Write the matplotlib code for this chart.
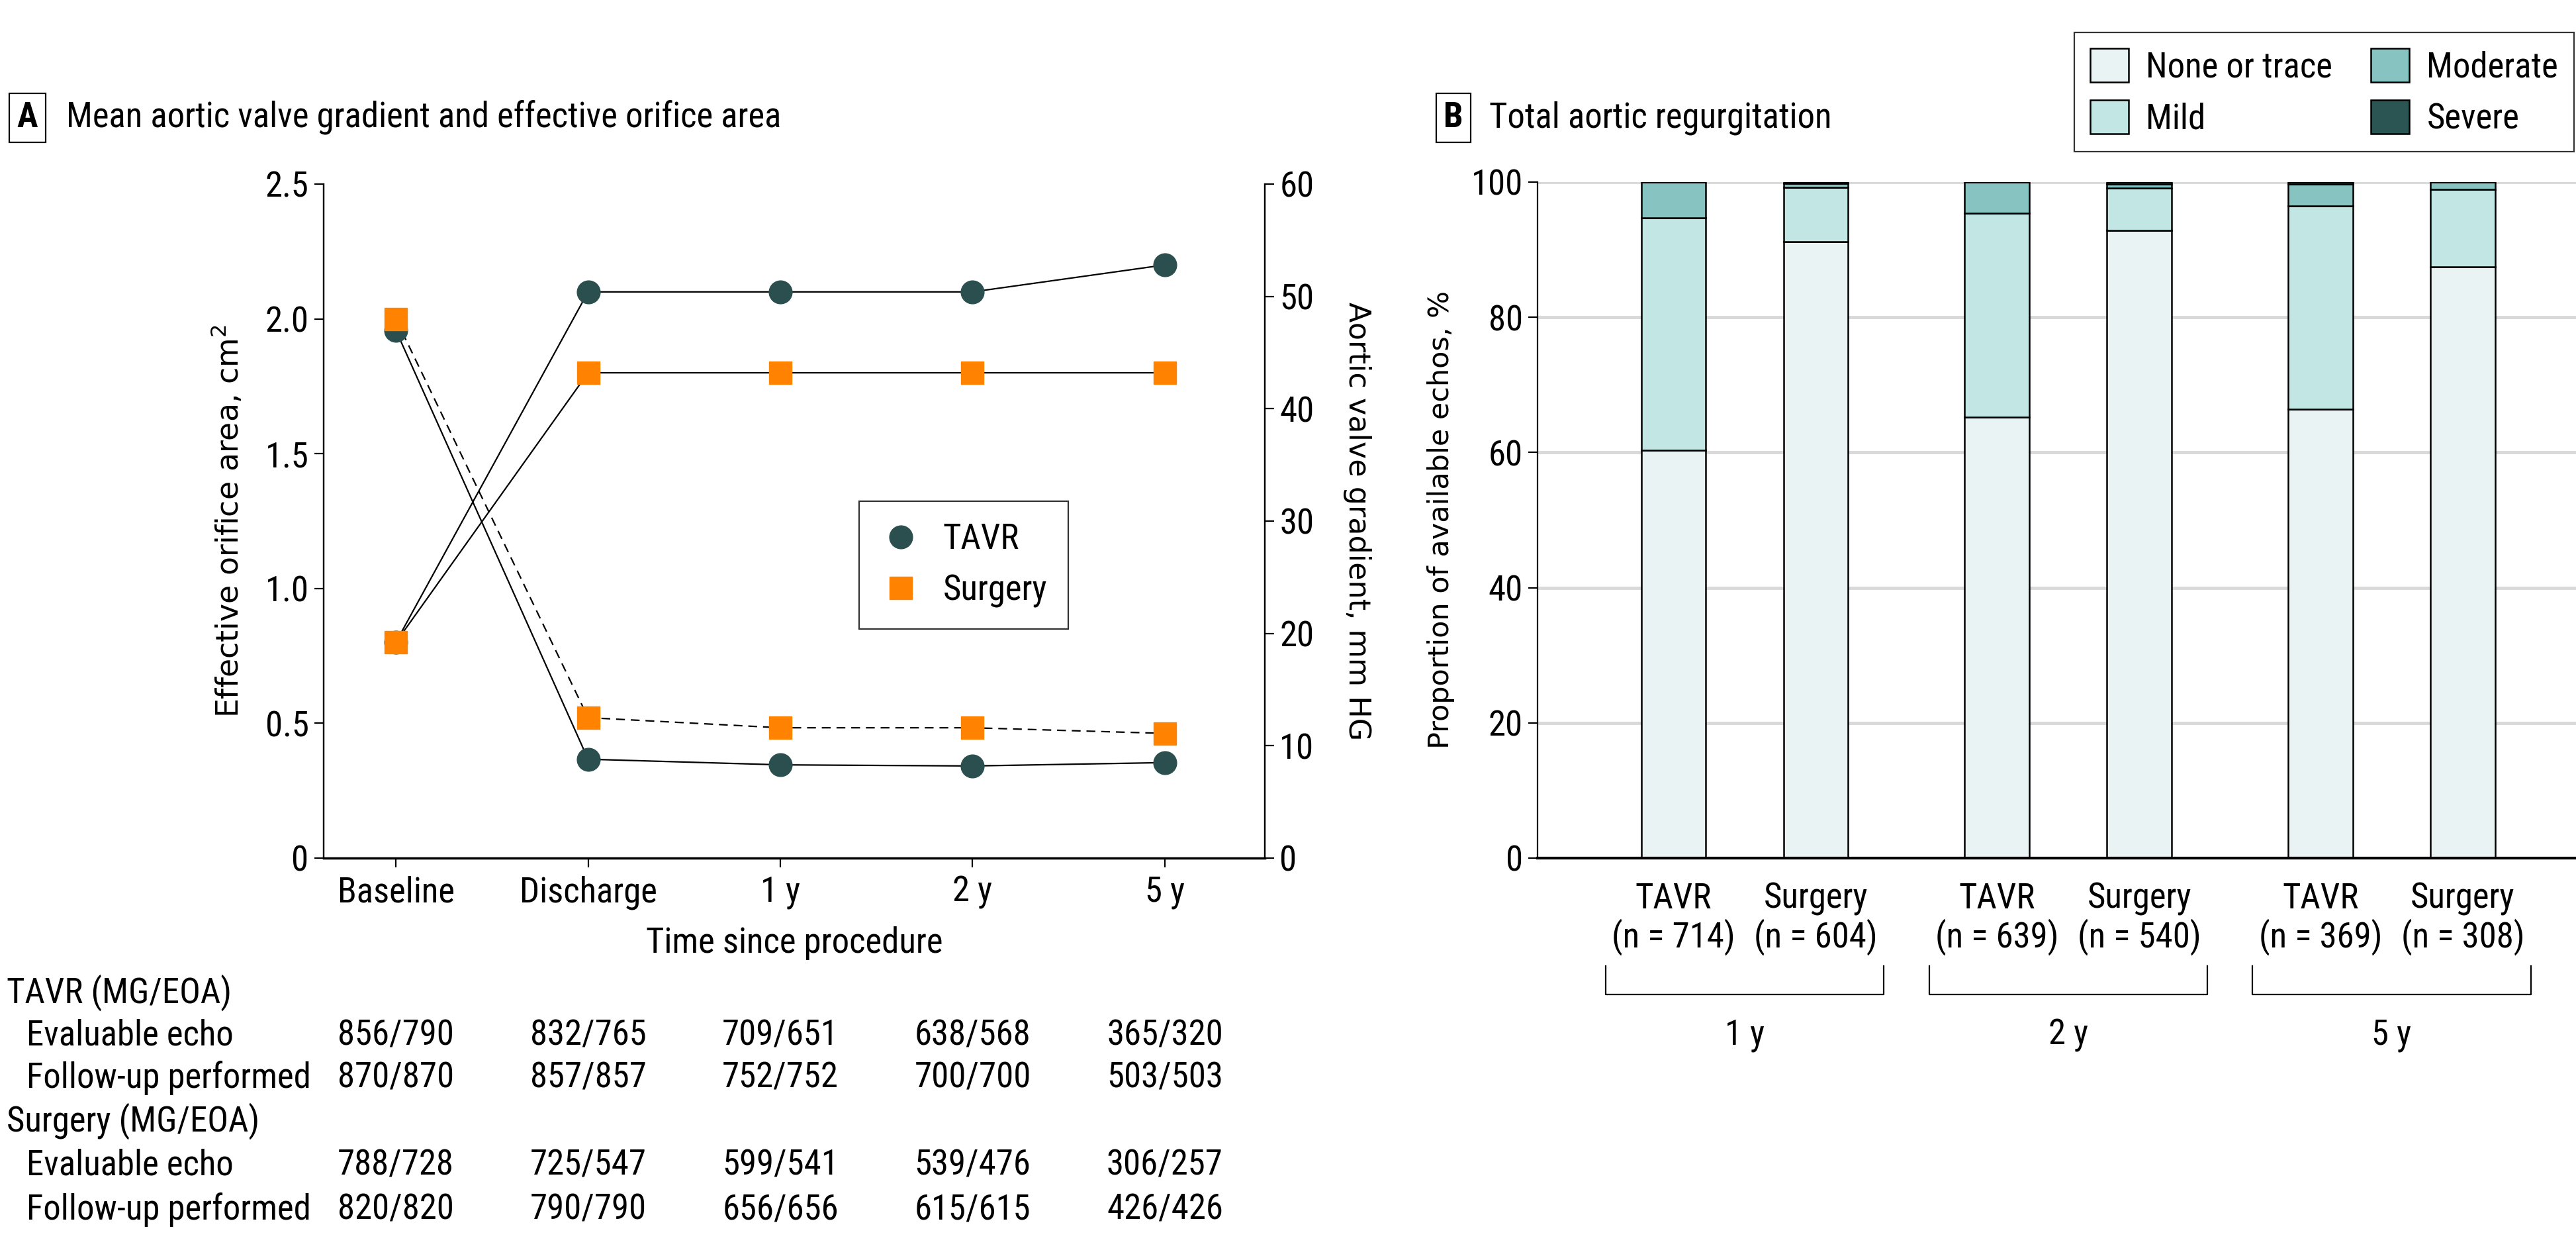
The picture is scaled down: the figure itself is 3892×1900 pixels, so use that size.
import matplotlib
matplotlib.use("Agg")
import matplotlib.pyplot as plt
import matplotlib.transforms as mtransforms
from matplotlib.patches import Patch
from matplotlib.lines import Line2D
from matplotlib import font_manager
import numpy as np

# ---------------- data ----------------
timepoints = ["Baseline", "Discharge", "1 y", "2 y", "5 y"]
tavr_eoa = [0.80, 2.10, 2.10, 2.10, 2.20]
surg_eoa = [0.80, 1.80, 1.80, 1.80, 1.80]
tavr_grad = [47.0, 8.8, 8.3, 8.2, 8.5]
surg_grad = [48.0, 12.5, 11.6, 11.6, 11.1]

tavr_eval = ["856/790", "832/765", "709/651", "638/568", "365/320"]
tavr_fu = ["870/870", "857/857", "752/752", "700/700", "503/503"]
surg_eval = ["788/728", "725/547", "599/541", "539/476", "306/257"]
surg_fu = ["820/820", "790/790", "656/656", "615/615", "426/426"]

groups = ["1 y", "2 y", "5 y"]
bar_labels = ["TAVR\n(n = 714)", "Surgery\n(n = 604)",
              "TAVR\n(n = 639)", "Surgery\n(n = 540)",
              "TAVR\n(n = 369)", "Surgery\n(n = 308)"]
categories = ["None or trace", "Mild", "Moderate", "Severe"]
none_trace = [60.3, 91.2, 65.2, 92.8, 66.4, 87.5]
mild = [34.4, 8.0, 30.2, 6.3, 30.1, 11.4]
moderate = [5.3, 0.6, 4.6, 0.6, 3.2, 1.1]
severe = [0.0, 0.2, 0.0, 0.3, 0.3, 0.0]

# ---------------- fonts ----------------
names = {f.name for f in font_manager.fontManager.ttflist}
cond = "Liberation Sans"
for cand in ["Liberation Sans Narrow", "Roboto Condensed", "Open Sans Condensed", "Liberation Sans"]:
    if cand in names:
        cond = cand
        break
plt.rcParams["font.family"] = [cond, "DejaVu Sans"]
FS = 38

C_TAVR = "#2b4f4f"
C_SURG = "#ff8200"
seg_colors = ["#eaf3f3", "#c1e6e4", "#87c3c1", "#2b5553"]

fig = plt.figure(figsize=(38.92, 19.0), dpi=100)

# ---------------- Panel A ----------------
axA = fig.add_axes([0.1256, 0.3179, 0.3654, 0.5358])
axA2 = axA.twinx()
x = np.arange(len(timepoints))

axA.plot(x, tavr_eoa, color="black", lw=1.6, zorder=2)
axA.plot(x, surg_eoa, color="black", lw=1.6, zorder=2)
axA2.plot(x, tavr_grad, color="black", lw=1.6, zorder=2)
axA2.plot(x, surg_grad, color="black", lw=1.6, ls=(0, (6, 4)), zorder=2)
axA.plot(x, tavr_eoa, ls="none", marker="o", ms=25, color=C_TAVR, zorder=3)
axA2.plot(x, tavr_grad, ls="none", marker="o", ms=25, color=C_TAVR, zorder=3)
axA.plot(x, surg_eoa, ls="none", marker="s", ms=24, color=C_SURG, zorder=4)
axA2.plot(x, surg_grad, ls="none", marker="s", ms=24, color=C_SURG, zorder=4)

axA.set_xlim(-0.376, 4.52)
axA.set_ylim(0, 2.5)
axA2.set_ylim(0, 60)
axA.set_yticks([0, 0.5, 1.0, 1.5, 2.0, 2.5])
axA.set_yticklabels(["0", "0.5", "1.0", "1.5", "2.0", "2.5"])
axA2.set_yticks([0, 10, 20, 30, 40, 50, 60])
axA.set_xticks(x)
axA.set_xticklabels(timepoints)
for a in (axA, axA2):
    a.spines["top"].set_visible(False)
    for s in a.spines.values():
        s.set_linewidth(1.6)
    a.tick_params(labelsize=FS, length=10, width=1.6, pad=6)
axA.tick_params(axis="x", pad=9)
axA.spines["bottom"].set_linewidth(2.5)
axA.set_xlabel("Time since procedure", fontsize=FS, labelpad=18)
axA.set_ylabel("Effective orifice area, cm$^2$", fontsize=33, family="DejaVu Sans", labelpad=22)
axA2.set_ylabel("Aortic valve gradient, mm HG", fontsize=32, family="DejaVu Sans",
                rotation=-90, labelpad=62)

legA = axA.legend(handles=[Line2D([], [], ls="none", marker="o", ms=25, color=C_TAVR),
                           Line2D([], [], ls="none", marker="s", ms=24, color=C_SURG)],
                  labels=["TAVR", "Surgery"], loc="upper left",
                  bbox_to_anchor=(0.569, 0.529), fontsize=FS, frameon=True,
                  fancybox=False, edgecolor="black", handletextpad=0.6, borderaxespad=0,
                  borderpad=0.6, labelspacing=0.5, handlelength=1.2)
legA.get_frame().set_linewidth(1.6)

fig.text(0.0107, 1 - 178 / 1900, "A", fontsize=FS, fontweight="bold", ha="center", va="center",
         bbox=dict(boxstyle="square,pad=0.22", fc="white", ec="black", lw=1.6))
fig.text(100 / 3892, 1 - 178 / 1900, "Mean aortic valve gradient and effective orifice area",
         fontsize=FS, ha="left", va="center")

# table below panel A
tr = mtransforms.blended_transform_factory(axA.transData, fig.transFigure)
rows_y = [1499, 1564, 1628, 1693, 1760, 1827]
fig.text(10 / 3892, 1 - rows_y[0] / 1900, "TAVR (MG/EOA)", fontsize=FS, va="center")
fig.text(40 / 3892, 1 - rows_y[1] / 1900, "Evaluable echo", fontsize=FS, va="center")
fig.text(40 / 3892, 1 - rows_y[2] / 1900, "Follow-up performed", fontsize=FS, va="center")
fig.text(10 / 3892, 1 - rows_y[3] / 1900, "Surgery (MG/EOA)", fontsize=FS, va="center")
fig.text(40 / 3892, 1 - rows_y[4] / 1900, "Evaluable echo", fontsize=FS, va="center")
fig.text(40 / 3892, 1 - rows_y[5] / 1900, "Follow-up performed", fontsize=FS, va="center")
for vals, yy in [(tavr_eval, rows_y[1]), (tavr_fu, rows_y[2]), (surg_eval, rows_y[4]), (surg_fu, rows_y[5])]:
    for i, v in enumerate(vals):
        fig.text(x[i], 1 - yy / 1900, v, fontsize=FS, ha="center", va="center", transform=tr)

# ---------------- Panel B ----------------
axB = fig.add_axes([0.5969, 0.3179, 0.4031, 0.5374])
gpos = np.arange(len(groups))
pos = np.array([[g - 0.22, g + 0.22] for g in gpos]).ravel()
bottom = np.zeros(len(pos))
for vals, col, lab in zip([none_trace, mild, moderate, severe], seg_colors, categories):
    vals = np.array(vals)
    axB.bar(pos, vals, width=0.2, bottom=bottom, color=col, edgecolor="black",
            linewidth=1.8, label=lab, zorder=3)
    bottom += vals

axB.set_xlim(-0.64, 2.57)
axB.set_ylim(0, 100)
axB.set_yticks([0, 20, 40, 60, 80, 100])
axB.yaxis.grid(True, color="#d9d9d9", lw=3.5, zorder=0)
axB.set_axisbelow(True)
for s in ["top", "right"]:
    axB.spines[s].set_visible(False)
axB.spines["left"].set_linewidth(1.6)
axB.spines["bottom"].set_linewidth(3)
axB.spines["bottom"].set_zorder(5)
axB.tick_params(axis="y", labelsize=FS, length=10, width=1.6, pad=6)
axB.set_xticks(pos)
axB.set_xticklabels(bar_labels, fontsize=FS, linespacing=1.1)
axB.tick_params(axis="x", length=0, pad=26)
axB.set_ylabel("Proportion of available echos, %", fontsize=31, family="DejaVu Sans", labelpad=18)

trB = mtransforms.blended_transform_factory(axB.transData, axB.transAxes)
for g, lab in zip(gpos, groups):
    axB.plot([g - 0.43, g - 0.43, g + 0.43, g + 0.43], [-0.16, -0.202, -0.202, -0.16],
             color="black", lw=1.6, transform=trB, clip_on=False)
    axB.text(g, -0.262, lab, fontsize=FS, ha="center", va="center", transform=trB)

fig.text(2196 / 3892, 1 - 178 / 1900, "B", fontsize=FS, fontweight="bold", ha="center", va="center",
         bbox=dict(boxstyle="square,pad=0.22", fc="white", ec="black", lw=1.6))
fig.text(2250 / 3892, 1 - 178 / 1900, "Total aortic regurgitation",
         fontsize=FS, ha="left", va="center")

hB = [Patch(facecolor=c, edgecolor="black", lw=1.8) for c in seg_colors]
legB = fig.legend(handles=hB, labels=categories, ncol=2, loc="upper right",
                  bbox_to_anchor=(0.9992, 0.974), fontsize=FS, frameon=True, borderaxespad=0,
                  fancybox=False, edgecolor="black", handlelength=1.1, handleheight=1.1,
                  columnspacing=1.1, handletextpad=0.5, borderpad=0.45, labelspacing=0.45)
legB.get_frame().set_linewidth(1.6)

fig.savefig("out.png", dpi=100, facecolor="white")
